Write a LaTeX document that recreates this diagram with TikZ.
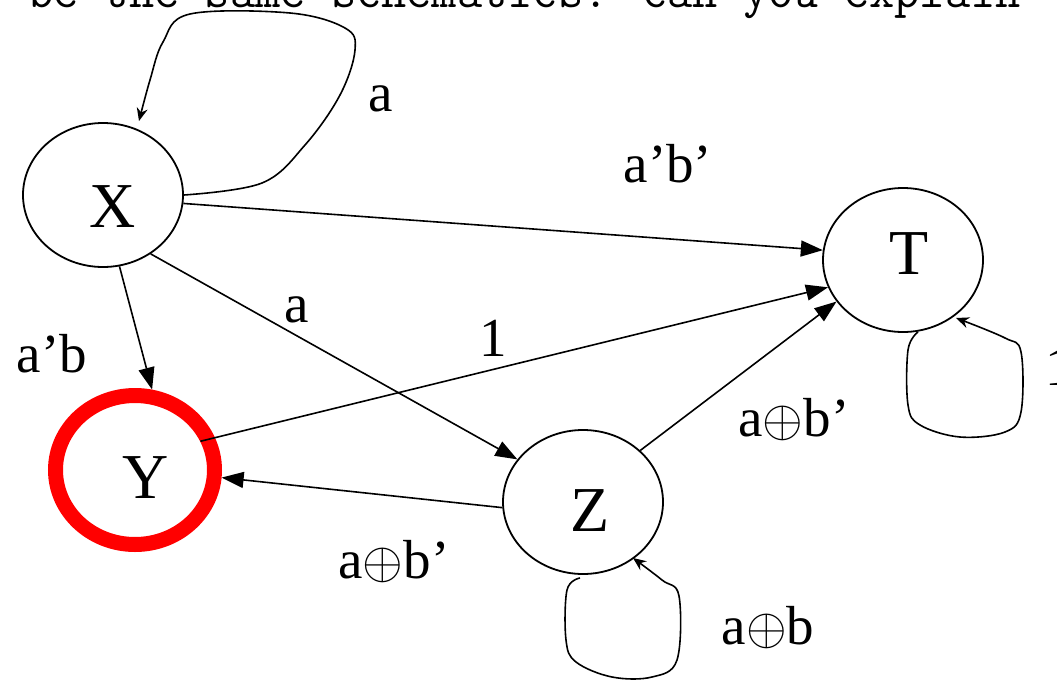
\documentclass[tikz,border=0pt]{standalone}
\usepackage{fontspec}
\setmainfont{Liberation Serif}
\usetikzlibrary{arrows.meta, shapes.geometric}

\newcommand{\xor}{\scalebox{2.1}{$\oplus$}}

\begin{document}
\begin{tikzpicture}[x=1pt, y=-1pt,
  state/.style={draw, ellipse, line width=1.8pt, minimum width=160pt,
                minimum height=144pt, inner sep=0pt},
  edge/.style={-{Triangle[length=22pt, width=16pt]}, line width=1.6pt},
  selfloop/.style={-{Stealth[length=13pt, width=11pt]}, line width=1.6pt,
                   line join=round},
  lbl/.style={font=\fontsize{55}{57}\selectfont, inner sep=0pt},
  big/.style={font=\fontsize{64}{66}\selectfont}]
  \useasboundingbox (0,0) rectangle (1057,680);

  % cut-off line of text above the graph
  \node[anchor=base west, inner sep=0pt, font=\ttfamily\fontsize{49}{51}\selectfont]
    (head) at (28,8) {be the same schematics. can you explain};

  % States
  \node[state, label={[big, xshift=10pt, yshift=-12pt]center:X}] (X) at (103,195) {};
  \node[state, label={[big, xshift=6pt, yshift=6pt]center:T}] (T) at (903,260) {};
  \node[state, label={[big, xshift=7pt, yshift=-9pt]center:Z}] (Z) at (583,502) {};
  \node[state, draw=red, line width=15pt, minimum width=159pt, minimum height=149pt,
        label={[big, xshift=11pt, yshift=-8pt]center:Y}] (Y) at (135,470) {};

  % Transitions
  \draw[edge] (X.-6) -- (T.173);
  \draw[edge] (X.-77) -- (Y.78);
  \draw[edge] (X.-51) -- (Z.147);
  \draw[edge, shorten <=-15pt] (Y.22) -- (T.200);
  \draw[edge] (Z.42) -- (T.212);
  \draw[edge] (Z.184) -- (Y.-5);

  % Self loops
  \draw[selfloop] plot[smooth, tension=0.6] coordinates {(X.east) (262,183)
    (305,145) (340,95) (355,50) (345,28) (290,13) (190,14) (163,42) (150,80)
    (139,121)};
  \draw[selfloop] plot[smooth, tension=0.6] coordinates {(918,332) (908,350)
    (908,405) (920,425) (960,437) (1005,432) (1021,412) (1021,352) (1005,338)
    (956,318)};
  \draw[selfloop] plot[smooth, tension=0.6] coordinates {(580,578) (567,590)
    (566,640) (576,662) (612,677) (652,677) (677,660) (679,596) (662,580)
    (633,558)};

  % Conditions
  \node[lbl] (cXX) at (381,99) {a};
  \node[lbl] (cXT) at (668,164) {a’b’};
  \node[lbl] (cXY) at (52,354) {a’b};
  \node[lbl] (cXZ) at (297,310) {a};
  \node[lbl] (cYT) at (493,338) {1};
  \node[lbl] (cZT) at (794,420) {a\xor b’};
  \node[lbl] (cZY) at (394,562) {a\xor b’};
  \node[lbl] (cZZ) at (768,628) {a\xor b};
  \node[lbl, anchor=west] (cTT) at (1045,367) {1};
\end{tikzpicture}
\end{document}
